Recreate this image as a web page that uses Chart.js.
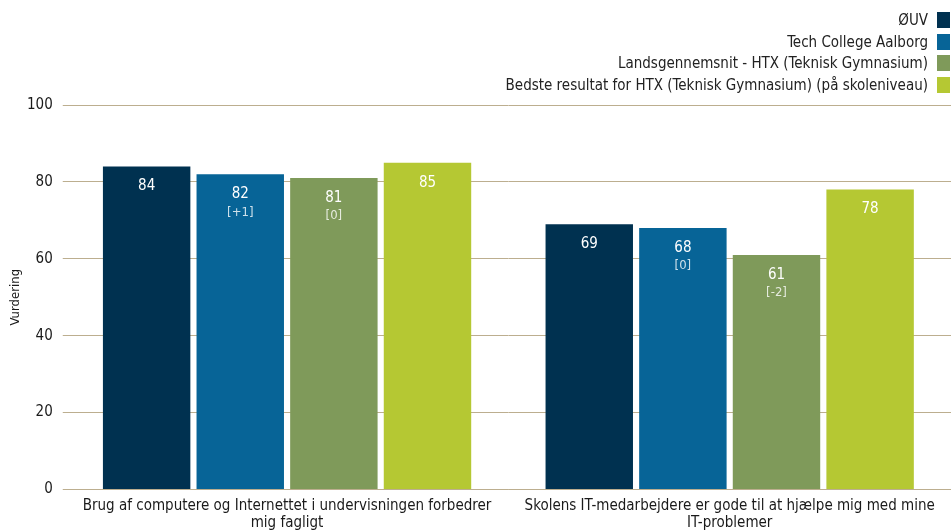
<!DOCTYPE html>
<html>
<head>
<meta charset="utf-8">
<script src="https://cdn.jsdelivr.net/npm/chart.js@4"></script>
<style>
  html, body { margin: 0; padding: 0; background: #fff; }
  #wrap { position: relative; width: 951px; height: 531px; overflow: hidden; }
  #legend { position: absolute; right: 1px; top: 9px; font-family: "DejaVu Sans Condensed", "DejaVu Sans", sans-serif; font-size: 15px; color: #222; }
  .row { display: flex; justify-content: flex-end; align-items: center; height: 21.7px; }
  .box { width: 13px; height: 16px; margin-left: 9px; }
</style>
</head>
<body>
<div id="wrap">
  <canvas id="chart" width="951" height="531"></canvas>
  <div id="legend"></div>
</div>
<script>
// kategorier (to linjer pr. label)
const categories = [
  ["Brug af computere og Internettet i undervisningen forbedrer", "mig fagligt"],
  ["Skolens IT-medarbejdere er gode til at hjælpe mig med mine", "IT-problemer"]
];
const seriesNames = [
  "ØUV",
  "Tech College Aalborg",
  "Landsgennemsnit - HTX (Teknisk Gymnasium)",
  "Bedste resultat for HTX (Teknisk Gymnasium) (på skoleniveau)"
];
const oeuvValues = [84, 69];
const techValues = [82, 68];
const landsValues = [81, 61];
const bedsteValues = [85, 78];
// ændring i forhold til sidst
const techChange = ["[+1]", "[0]"];
const landsChange = ["[0]", "[-2]"];
const yTicks = [0, 20, 40, 60, 80, 100];
const yTitle = 'Vurdering';

const colors = ['#003150', '#076497', '#7f9a5a', '#b5c833'];
const allValues = [oeuvValues, techValues, landsValues, bedsteValues];
const allChanges = [null, techChange, landsChange, null];
const fontFam = '"DejaVu Sans Condensed", "DejaVu Sans", sans-serif';

const datasets = allValues.map((vals, i) => ({
  label: seriesNames[i],
  data: vals,
  backgroundColor: colors[i],
  changes: allChanges[i],
  barPercentage: 0.934,
  categoryPercentage: 0.846
}));

// labels inde i søjlerne + akse-titel
const barLabels = {
  id: 'barLabels',
  afterDatasetsDraw(chart) {
    const ctx = chart.ctx;
    ctx.save();
    ctx.textAlign = 'center';
    ctx.textBaseline = 'middle';
    chart.data.datasets.forEach((ds, i) => {
      chart.getDatasetMeta(i).data.forEach((bar, j) => {
        ctx.fillStyle = '#ffffff';
        ctx.font = '15px ' + fontFam;
        ctx.fillText(ds.data[j], bar.x, bar.y + 20);
        if (ds.changes) {
          ctx.fillStyle = 'rgba(255,255,255,0.8)';
          ctx.font = '13px ' + fontFam;
          ctx.fillText(ds.changes[j], bar.x, bar.y + 38);
        }
      });
    });
    // y-titel
    const area = chart.chartArea;
    ctx.translate(16, (area.top + area.bottom) / 2);
    ctx.rotate(-Math.PI / 2);
    ctx.fillStyle = '#1a1a1a';
    ctx.font = '13px ' + fontFam;
    ctx.fillText(yTitle, 0, 0);
    ctx.restore();
  }
};

const chart = new Chart(document.getElementById('chart').getContext('2d'), {
  type: 'bar',
  data: { labels: categories, datasets: datasets },
  options: {
    responsive: false,
    animation: false,
    layout: { padding: { top: 105, right: -8, left: 17, bottom: -9 } },
    plugins: { legend: { display: false }, tooltip: { enabled: false } },
    scales: {
      x: {
        grid: { display: false, drawTicks: false },
        border: { display: true, color: '#bcae8f', width: 1 },
        ticks: { color: '#1a1a1a', font: { family: fontFam, size: 15, lineHeight: 1.15 }, padding: 8, maxRotation: 0, autoSkip: false }
      },
      y: {
        min: 0, max: 100,
        afterBuildTicks: (axis) => { axis.ticks = yTicks.map(v => ({ value: v })); },
        grid: { color: '#bcae8f', lineWidth: 1, tickLength: 3 },
        border: { display: false },
        ticks: { color: '#1a1a1a', font: { family: fontFam, size: 15 }, padding: 10 },
        title: { display: false }
      }
    }
  },
  plugins: [barLabels]
});

// legende til højre øverst
const legendEl = document.getElementById('legend');
seriesNames.forEach((name, i) => {
  const row = document.createElement('div');
  row.className = 'row';
  const txt = document.createElement('span');
  txt.textContent = name;
  const box = document.createElement('span');
  box.className = 'box';
  box.style.background = colors[i];
  row.appendChild(txt);
  row.appendChild(box);
  legendEl.appendChild(row);
});
</script>
</body>
</html>
